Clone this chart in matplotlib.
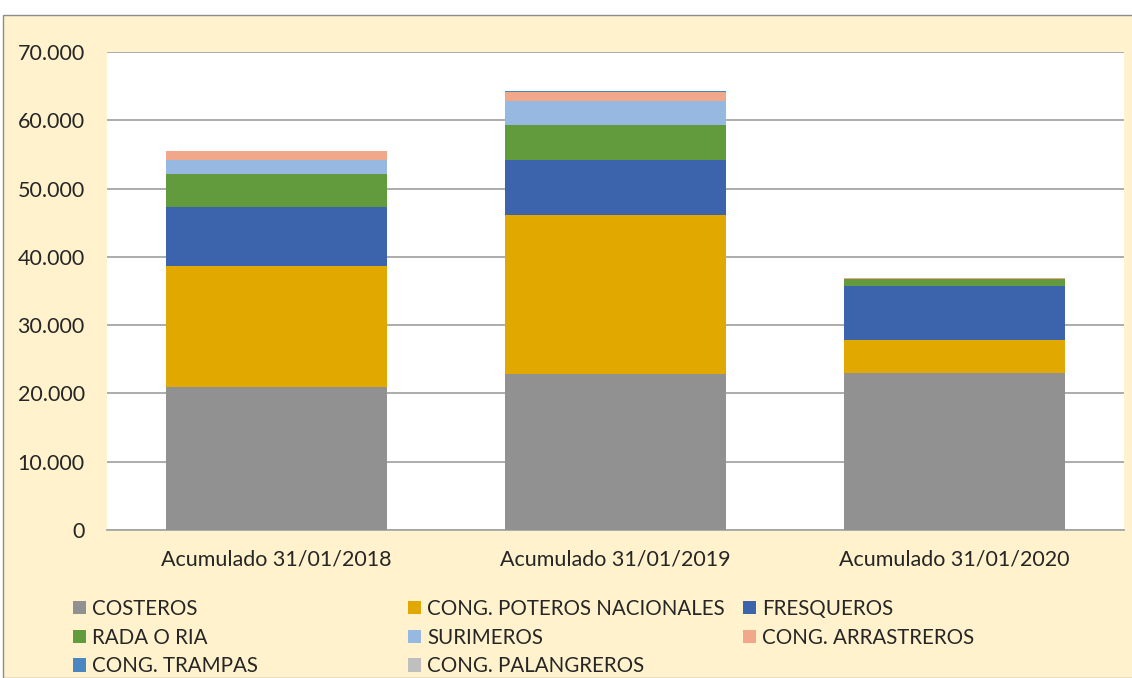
import matplotlib
matplotlib.use("Agg")
import matplotlib.pyplot as plt
from matplotlib.patches import Rectangle, Patch
from matplotlib.ticker import FuncFormatter

plt.rcParams['font.family'] = ['Lato', 'DejaVu Sans']

categories = ["Acumulado 31/01/2018", "Acumulado 31/01/2019", "Acumulado 31/01/2020"]
series_names = ["COSTEROS", "CONG. POTEROS NACIONALES", "FRESQUEROS", "RADA O RIA",
                "SURIMEROS", "CONG. ARRASTREROS", "CONG. TRAMPAS", "CONG. PALANGREROS"]
costeros = [21000, 22850, 23000]
poteros = [17650, 23280, 4830]
fresqueros = [8640, 8050, 7950]
rada = [4830, 5120, 930]
surimeros = [2070, 3510, 0]
arrastreros = [1300, 1320, 200]
trampas = [0, 150, 0]
palangreros = [0, 50, 0]
series_values = [costeros, poteros, fresqueros, rada, surimeros, arrastreros, trampas, palangreros]
colors = ["#919191", "#E1A800", "#3B64AD", "#629A3E", "#97B8E0", "#F0A78A", "#4A87C2", "#BFBFBF"]
yticks = [0, 10000, 20000, 30000, 40000, 50000, 60000, 70000]

W, H = 1132, 678
fig = plt.figure(figsize=(W / 100, H / 100), dpi=100)
fig.patch.set_facecolor("white")
fig.patches.append(Rectangle((3 / W, 0), 1.2, 1 - 15 / H, transform=fig.transFigure,
                             facecolor="#FFF2CC", edgecolor="#8C8C8C", linewidth=1.0, zorder=-10))

ax = fig.add_axes([107 / W, 1 - 530 / H, (1124 - 107) / W, (530 - 52) / H])
ax.set_facecolor("white")
x = list(range(len(categories)))
bottom = [0] * len(categories)
handles = []
for name, vals, c in zip(series_names, series_values, colors):
    ax.bar(x, vals, width=0.65, bottom=bottom, color=c, edgecolor="none", zorder=3, label=name)
    bottom = [b + v for b, v in zip(bottom, vals)]
    handles.append(Patch(facecolor=c, edgecolor="none", label=name))

ax.set_ylim(0, 70000)
ax.set_xlim(-0.5, 2.5)
ax.set_yticks(yticks)
ax.yaxis.set_major_formatter(FuncFormatter(lambda v, p: f"{int(v):,}".replace(",", ".")))
ax.set_xticks(x)
ax.set_xticklabels(categories)
ax.grid(axis="y", color="#A6A6A6", linewidth=1.3, zorder=0)
for s in ["left", "right", "top"]:
    ax.spines[s].set_visible(False)
ax.spines["bottom"].set_color("#A6A6A6")
ax.spines["bottom"].set_linewidth(1.3)
ax.tick_params(axis="both", length=0, labelsize=15.5, colors="#262626")
ax.tick_params(axis="y", pad=16)
ax.tick_params(axis="x", pad=14)

cols = [[0, 3, 6], [1, 4, 7], [2, 5]]
xpos = [73, 408, 743]
for col, xp in zip(cols, xpos):
    leg = fig.legend(handles=[handles[i] for i in col], loc="upper left",
                     bbox_to_anchor=(xp / W, 1 - 599 / H), frameon=False,
                     fontsize=14.8, handlelength=0.62, handleheight=0.62, handletextpad=0.3,
                     labelspacing=0.42, borderaxespad=0, borderpad=0)
    for t in leg.get_texts():
        t.set_color("#262626")

fig.savefig("out.png", dpi=100)
